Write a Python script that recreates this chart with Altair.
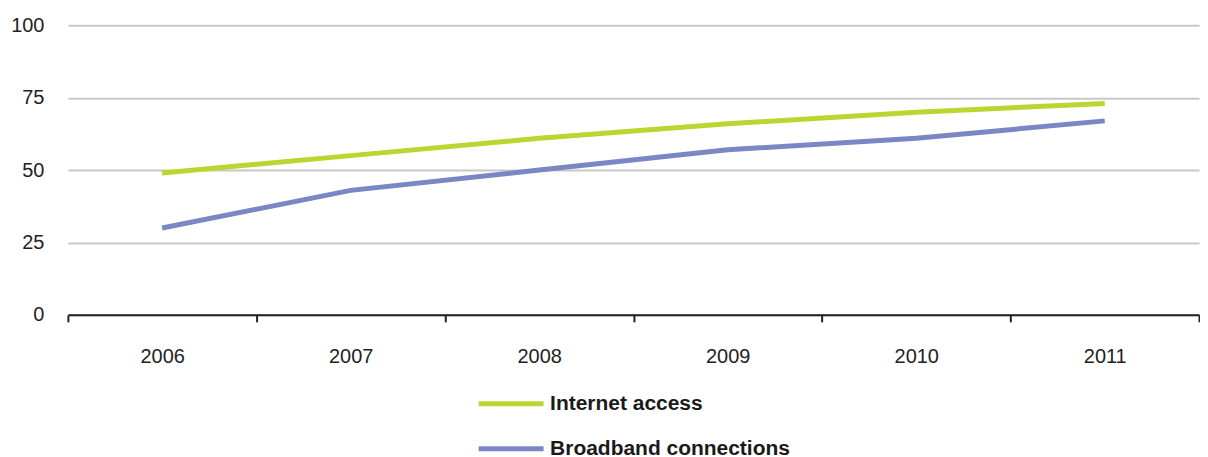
import altair as alt
import pandas as pd

years = ["2006", "2007", "2008", "2009", "2010", "2011"]
internet = [49, 55, 61, 66, 70, 73]
broadband = [30, 43, 50, 57, 61, 67]
series = ["Internet access", "Broadband connections"]
colors = ["#BDD530", "#7B86C4"]
y_ticks = [0, 25, 50, 75, 100]

rows = []
for name, vals in zip(series, [internet, broadband]):
    for yr, v in zip(years, vals):
        rows.append({"year": yr, "value": v, "series": name})
df = pd.DataFrame(rows)

FONT = "Liberation Sans, Arial, sans-serif"

chart = alt.Chart(df).mark_line(strokeWidth=5, interpolate="linear").encode(
    x=alt.X(
        "year:O",
        bandPosition=0.5,
        scale=alt.Scale(type="band", paddingInner=0, paddingOuter=0),
        axis=alt.Axis(
            title=None,
            labelAngle=0,
            tickBand="extent",
            tickSize=7,
            tickWidth=2,
            tickColor="#222222",
            domainColor="#222222",
            domainWidth=2,
            labelPadding=25,
            labelFont=FONT,
            labelFontSize=20,
            labelColor="#222222",
            grid=False,
        ),
    ),
    y=alt.Y(
        "value:Q",
        scale=alt.Scale(domain=[0, 100], nice=False),
        axis=alt.Axis(
            title=None,
            values=y_ticks,
            ticks=False,
            domain=False,
            grid=True,
            gridColor="#C8C8C8",
            gridWidth=2,
            labelPadding=24,
            labelFont=FONT,
            labelFontSize=20,
            labelColor="#222222",
        ),
    ),
    color=alt.Color(
        "series:N",
        scale=alt.Scale(domain=series, range=colors),
        legend=alt.Legend(
            title=None,
            orient="none",
            legendX=409,
            legendY=344,
            direction="vertical",
            symbolType="stroke",
            symbolSize=4225,
            symbolStrokeWidth=5,
            labelFont=FONT,
            labelFontSize=21,
            labelFontWeight="bold",
            labelColor="#1a1a1a",
            labelOffset=4,
            labelLimit=0,
            rowPadding=-27,
        ),
    ),
    order=alt.Order("year:O"),
).properties(
    width=1133,
    height=290,
    padding={"left": 2, "top": 7, "right": 0, "bottom": 0},
).configure_view(stroke=None)

chart.save("out.html", embed_options={"renderer": "svg", "actions": False})
